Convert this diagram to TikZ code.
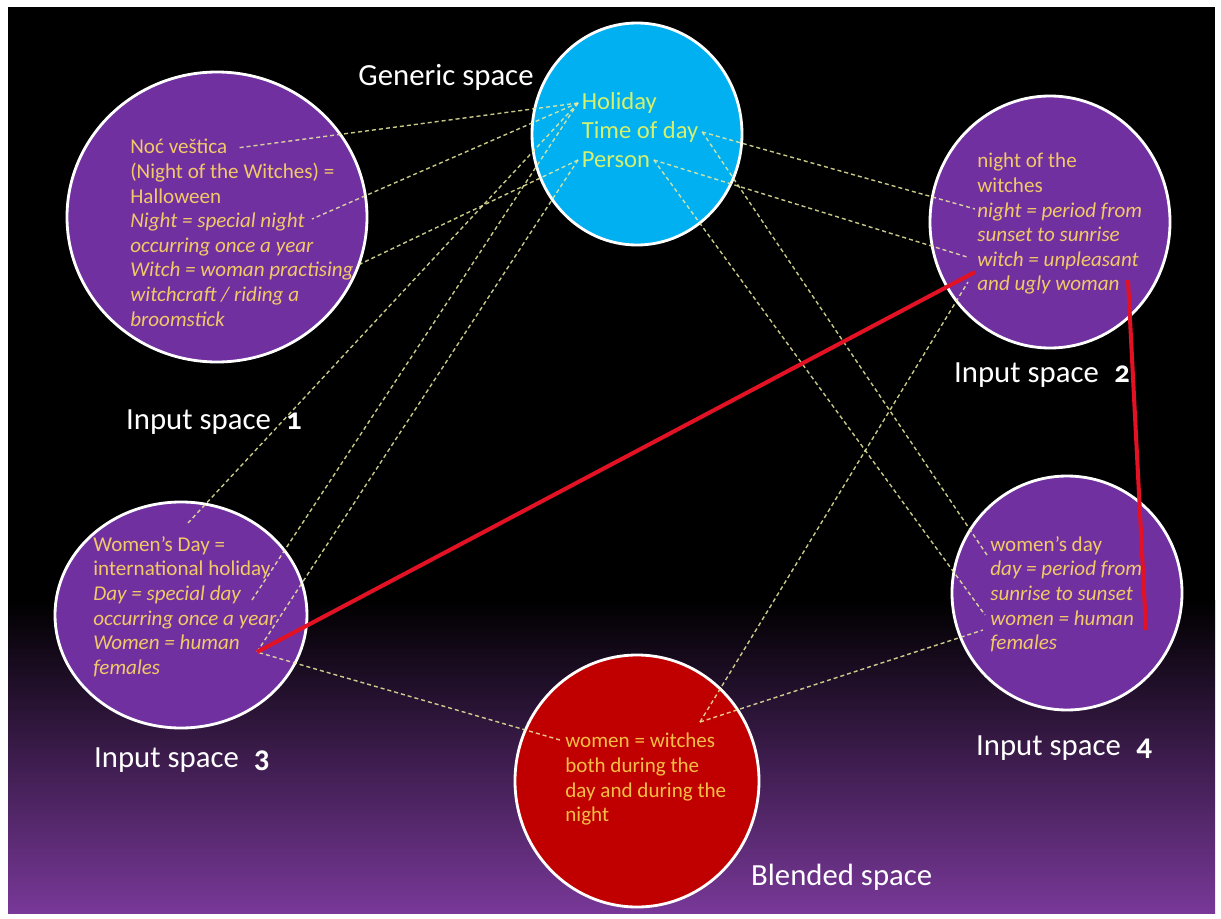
\documentclass[tikz,border=0pt]{standalone}
\usepackage{fontspec}
\setmainfont{Carlito}[Numbers=OldStyle]
\definecolor{spacepurple}{RGB}{112,48,160}
\definecolor{genericblue}{RGB}{0,176,240}
\definecolor{blendred}{RGB}{192,0,0}
\definecolor{maptext}{RGB}{242,200,105}
\definecolor{generictext}{RGB}{212,240,110}
\definecolor{blendtext}{RGB}{246,190,70}
\definecolor{linkline}{RGB}{235,235,160}
\definecolor{crossred}{RGB}{226,18,36}
\definecolor{floorpurple}{RGB}{120,56,152}

\begin{document}
\begin{tikzpicture}[x=0.02cm, y=-0.02cm,
        spacedisc/.style={draw=white, line width=1.6pt},
        maplink/.style={draw=linkline, draw opacity=0.85, line width=0.8pt, dash pattern=on 2.3pt off 1.7pt},
        redlink/.style={draw=crossred, line width=2.3pt},
        spacetext/.style={anchor=north west, inner sep=0pt, align=left, text=maptext, font=\fontsize{12}{14}\selectfont},
        generictxt/.style={anchor=west, inner sep=2pt, text=generictext, font=\fontsize{14}{17}\selectfont},
        spacename/.style={text=white, font=\fontsize{17.5}{21}\selectfont}]
                \useasboundingbox (0,0) rectangle (1221,919);
                \fill [white] (0,0) rectangle (1221,919);
                \fill [black] (8,7) rectangle (1215,913);
                \shade [top color=black, bottom color=floorpurple] (8,600) rectangle (1215,913);

                \filldraw [spacedisc, fill=genericblue] (637,134) ellipse [x radius=105, y radius=111];
                \filldraw [spacedisc, fill=spacepurple] (217,217) ellipse [x radius=150, y radius=145];
                \filldraw [spacedisc, fill=spacepurple] (1050,222) ellipse [x radius=120, y radius=126];
                \filldraw [spacedisc, fill=spacepurple] (181,615) ellipse [x radius=126, y radius=113];
                \filldraw [spacedisc, fill=spacepurple] (1067,593) ellipse [x radius=115, y radius=117];
                \filldraw [spacedisc, fill=blendred] (637,781) ellipse [x radius=122, y radius=126];

                \node[generictxt] (hol) at (578,103) {Holiday};
                \node[generictxt] (tod) at (578,132) {Time of day};
                \node[generictxt] (per) at (578,160) {Person};

                \coordinate (a1) at (237,148);
                \coordinate (a2) at (312,219);
                \coordinate (a3) at (356,266);
                \coordinate (b1) at (975,209);
                \coordinate (b2) at (967,257);
                \coordinate (b3) at (975,272);
                \coordinate (b4) at (1128,280);
                \coordinate (b5) at (968,282);
                \coordinate (c1) at (188,523);
                \coordinate (c2) at (252,600);
                \coordinate (c3) at (257,652);
                \coordinate (d1) at (987,555);
                \coordinate (d2) at (985,615);
                \coordinate (d3) at (983,630);
                \coordinate (d4) at (1146,630);
                \coordinate (e1) at (560,740);
                \coordinate (e2) at (700,722);

                \draw [maplink] (hol.west) -- (a1);
                \draw [maplink] (hol.west) -- (a2);
                \draw [maplink] (hol.west) -- (c1);
                \draw [maplink] (hol.west) -- (c2);
                \draw [maplink] (per.west) -- (a3);
                \draw [maplink] (per.west) -- (c3);
                \draw [maplink] (tod.east) -- (b1);
                \draw [maplink] (tod.east) -- (d1);
                \draw [maplink] (per.east) -- (b2);
                \draw [maplink] (per.east) -- (d2);
                \draw [maplink] (e2) -- (b5);
                \draw [maplink] (e2) -- (d3);
                \draw [maplink] (e1) -- (c3);

                \draw [redlink] (c3) -- (b3);
                \draw [redlink] (b4) -- (d4);

                \node[spacetext] (in1) at (130,139) {Noć veštica\\(Night of the Witches) =\\Halloween\\\textit{Night = special night}\\\textit{occurring once a year}\\\textit{Witch = woman practising}\\\textit{witchcraft / riding a}\\\textit{broomstick}};
                \node[spacetext] (in2) at (977,153) {night of the\\witches\\\textit{night = period from}\\\textit{sunset to sunrise}\\\textit{witch = unpleasant}\\\textit{and ugly woman}};
                \node[spacetext] (in3) at (93,536) {Women’s Day =\\international holiday\\\textit{Day = special day}\\\textit{occurring once a year}\\\textit{Women = human}\\\textit{females}};
                \node[spacetext] (in4) at (990,536) {women’s day\\\textit{day = period from}\\\textit{sunrise to sunset}\\\textit{women = human}\\\textit{females}};
                \node[spacetext, text=blendtext] (bl) at (565,733) {women = witches\\both during the\\day and during the\\night};

                \node[spacename] (gentitle) at (446,77) {Generic space};
                \node[spacename, anchor=west] (in1title) at (120,422) {Input space\enspace\textbf{1}};
                \node[spacename, anchor=west] (in2title) at (948,375) {Input space\enspace\textbf{2}};
                \node[spacename, anchor=west] (in3title) at (88,760) {Input space\enspace\textbf{3}};
                \node[spacename, anchor=west] (in4title) at (970,748) {Input space\enspace\textbf{4}};
                \node[spacename, anchor=west] (bltitle) at (745,877) {Blended space};
            \end{tikzpicture}
\end{document}
